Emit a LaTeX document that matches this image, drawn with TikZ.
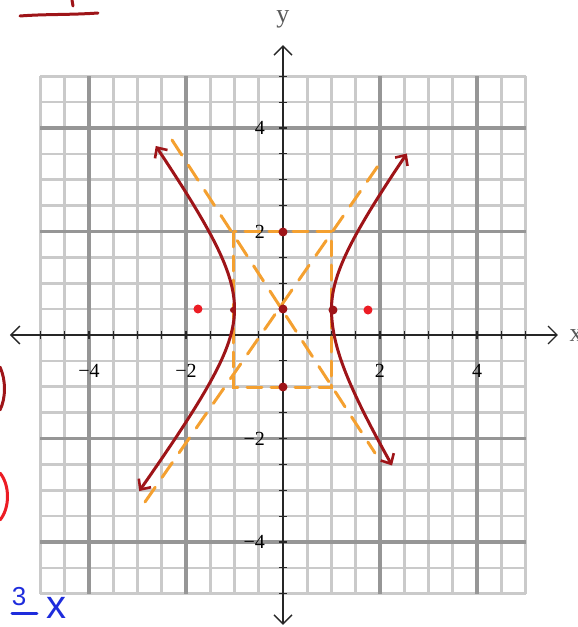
\documentclass[tikz,border=0pt]{standalone}
\usepackage{fontspec}
\setmainfont{Liberation Serif}
\newfontfamily\handfont{Liberation Sans}
\usetikzlibrary{arrows.meta}
\definecolor{hyp}{RGB}{158,20,24}
\definecolor{asy}{RGB}{244,160,48}
\definecolor{focus}{RGB}{236,28,36}
\definecolor{handblue}{RGB}{30,44,220}
\definecolor{gridlight}{RGB}{202,202,202}
\definecolor{griddark}{RGB}{150,150,150}
\begin{document}
\begin{tikzpicture}[x=48.5pt,y=51.75pt,
  minorgrid/.style={draw=gridlight,line width=2.6pt},
  majorgrid/.style={draw=griddark,line width=3.2pt},
  axisline/.style={draw=black!85,line width=1.5pt,
    {Straight Barb[length=9pt,width=18pt,line width=1.3pt]}-{Straight Barb[length=9pt,width=18pt,line width=1.3pt]}},
  tickmark/.style={draw=black!85,line width=1.2pt},
  ticklabel/.style={font=\fontsize{20}{20}\selectfont,inner sep=0pt,text=black},
  axislabel/.style={font=\fontsize{26}{26}\selectfont,inner sep=0pt,text=black!65},
  hyperb/.style={draw=hyp,line width=3pt,line cap=round,line join=round,
    {Straight Barb[length=8pt,width=15pt,line width=2.6pt]}-{Straight Barb[length=8pt,width=15pt,line width=2.6pt]}},
  asym/.style={draw=asy,line width=3pt,line cap=round,dash pattern=on 18pt off 12pt},
  boxdash/.style={draw=asy,line width=3pt,line cap=round,dash pattern=on 15pt off 9pt},
  handpen/.style={line width=3pt,line cap=round,line join=round},
  handtext/.style={font=\handfont\fontsize{26}{26}\selectfont,inner sep=0pt,text=handblue}
]
% ---------- grid ----------
\foreach \v in {-5,-4.5,...,5.1} {
  \draw[minorgrid] (\v,-5) -- (\v,5);
  \draw[minorgrid] (-5,\v) -- (5,\v);
}
\foreach \v in {-4,-2,2,4} {
  \draw[majorgrid] (\v,-5) -- (\v,5);
  \draw[majorgrid] (-5,\v) -- (5,\v);
}
% ---------- axes ----------
\draw[axisline] (-5.63,0) -- (5.67,0);
\draw[axisline] (0,-5.6) -- (0,5.6);
\foreach \v in {-5,-4.5,...,5.1} {
  \draw[tickmark] (\v,0) ++(0,-4pt) -- ++(0,8pt);
  \draw[tickmark] (0,\v) ++(-4pt,0) -- ++(8pt,0);
}
\foreach \v/\t/\n in {-4/−4/a,-2/−2/b,2/2/c,4/4/d} {
  \node[ticklabel] (xl\n) at (\v,-0.70) {\t};
  \node[ticklabel,anchor=east] (yl\n) at ([xshift=-18pt]0,\v) {\t};
}
% ---------- hand-drawn work (pixel coordinates) ----------
\begin{scope}[x=1pt,y=-1pt,shift={(-283pt,335pt)}]
\useasboundingbox (0,0) rectangle (578,627);
\node[axislabel] (xlab) at (576,336) {x};
\node[axislabel] (ylab) at (283,19) {y};
% dashed box and asymptotes
\draw[boxdash] (234,232) rectangle (332,387);
\draw[asym] (172,140) -- (375,453);
\draw[asym] (145,502) -- (380,163);
% hyperbola (centre (0,0.5), a = 1)
\draw[hyperb] plot[domain=-1.75:1.62,samples=70,smooth]
  ({283-48.5*cosh(\x)},{335-51.75*(0.5+((\x>0)?1.30:1.26)*sinh(\x))});
\draw[hyperb] plot[domain=-1.45:1.59,samples=70,smooth]
  ({283+48.5*cosh(\x)},{335-51.75*(0.5+((\x>0)?1.28:1.50)*sinh(\x))});
% points
\fill[hyp] (283,232) circle (4.5pt);
\fill[hyp] (283,309) circle (4.5pt);
\fill[hyp] (283,387) circle (4.5pt);
\fill[hyp] (333,310) circle (4.5pt);
\fill[hyp] (233,310) circle (3pt);
\fill[focus] (198,309) circle (4.5pt);
\fill[focus] (368,310) circle (4.5pt);
% marks at the page edge
\draw[handpen,draw=hyp] (20,16) .. controls (45,14) and (70,15) .. (98,13);
\draw[handpen,draw=hyp] (72,0) -- (73,6);
\draw[handpen,draw=hyp] (0,367) .. controls (6,380) and (6,398) .. (0,410);
\draw[handpen,draw=focus] (0,473) .. controls (10,485) and (10,508) .. (0,520);
\node[handtext] (three) at (19,597) {3};
\draw[handpen,draw=handblue] (12,613) -- (37,613);
\node[handtext] (two) at (24,637) {2};
\node[handtext,font=\handfont\fontsize{40}{40}\selectfont] (ex) at (57,608) {x};
\end{scope}
\end{tikzpicture}
\end{document}
